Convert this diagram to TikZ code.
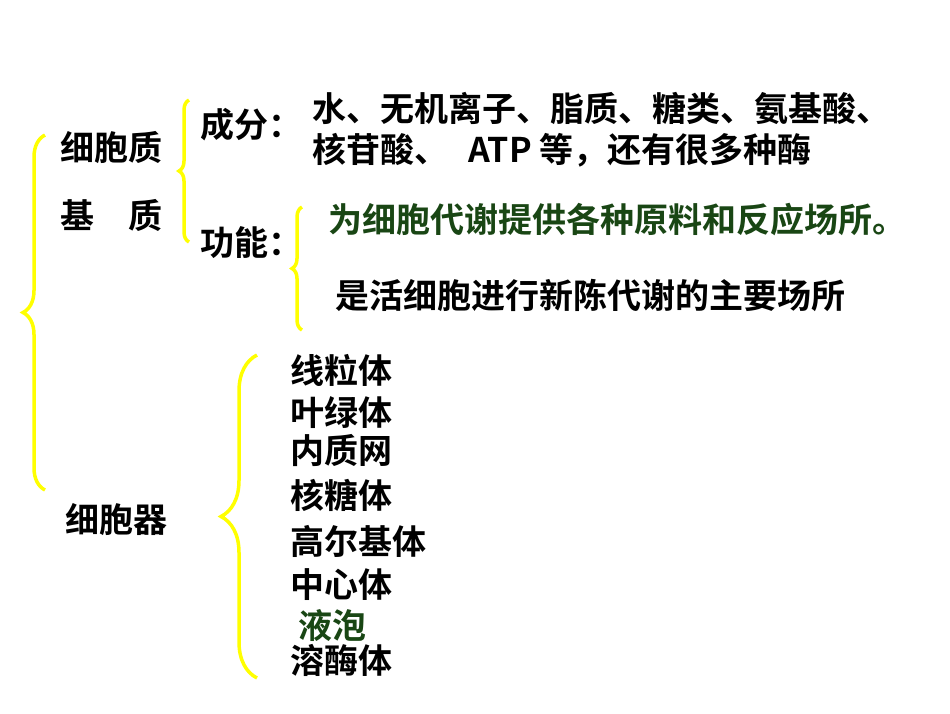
\documentclass[tikz,border=0pt]{standalone}
\usepackage{fontspec}
\newfontfamily\cjk{Noto Sans CJK SC Bold}
\usetikzlibrary{decorations.pathreplacing}
\definecolor{dg}{RGB}{25,70,20}
\definecolor{yb}{RGB}{255,255,0}
\begin{document}
\begin{tikzpicture}[x=1pt,y=-1pt,
  t/.style={anchor=west,inner sep=0pt,font=\cjk\fontsize{34}{37}\selectfont},
  br/.style={draw=yb,line width=3.5pt,decorate,decoration={brace,amplitude=#1}}]
\useasboundingbox[fill=white] (0,0) rectangle (950,713);
\coordinate (b1a) at (45,490); \coordinate (b1b) at (45,135);
\draw[br=22pt] (b1a) -- (b1b);
\coordinate (b2a) at (189,242); \coordinate (b2b) at (189,100);
\draw[br=10pt] (b2a) -- (b2b);
\coordinate (b3a) at (302,330); \coordinate (b3b) at (302,207);
\draw[br=10pt] (b3a) -- (b3b);
\coordinate (b4a) at (257,678); \coordinate (b4b) at (257,355);
\draw[br=36pt] (b4a) -- (b4b);
\node[t] (a) at (60,148) {细胞质};
\node[t] (b) at (60,215) {基\hspace{1em}质};
\node[t] (c) at (200,125) {成分：};
\node[t] (d) at (312,108) {水、无机离子、脂质、糖类、氨基酸、};
\node[t] (e) at (312,150) {核苷酸、\hspace{0.6em}ATP 等，还有很多种酶};
\node[t] (f) at (200,243) {功能：};
\node[t,text=dg] (g) at (328,220) {为细胞代谢提供各种原料和反应场所。};
\node[t] (h) at (335,295) {是活细胞进行新陈代谢的主要场所};
\node[t] (i) at (65,520) {细胞器};
\node[t] (o1) at (290,370) {线粒体};
\node[t] (o2) at (290,413) {叶绿体};
\node[t] (o3) at (290,451) {内质网};
\node[t] (o4) at (290,495) {核糖体};
\node[t] (o5) at (290,541) {高尔基体};
\node[t] (o6) at (290,585) {中心体};
\node[t,text=dg] (o7) at (298,625) {液泡};
\node[t] (o8) at (290,660) {溶酶体};
\end{tikzpicture}
\end{document}
